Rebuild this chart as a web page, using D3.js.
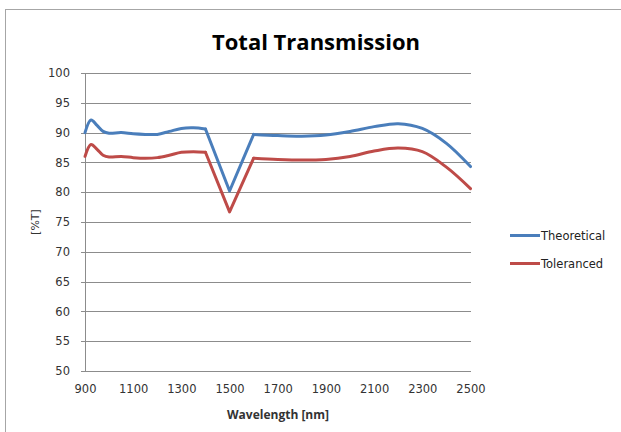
<!DOCTYPE html>
<html><head><meta charset="utf-8">
<script src="https://cdn.jsdelivr.net/npm/d3@7"></script>
<style>
html,body{margin:0;padding:0;background:#fff;}
svg{display:block;}
</style></head>
<body>
<svg id="chart" width="621" height="432"></svg>
<script>
const wavelengths = [900, 925, 950, 975, 1000, 1050, 1100, 1150, 1200, 1250, 1300, 1350, 1400, 1500, 1600, 1700, 1800, 1900, 2000, 2100, 2200, 2300, 2400, 2500];
const theoretical = [90.0, 92.1, 91.2, 90.2, 89.9, 90.0, 89.8, 89.7, 89.7, 90.2, 90.7, 90.8, 90.6, 80.2, 89.7, 89.5, 89.4, 89.6, 90.2, 91.0, 91.5, 90.7, 88.2, 84.3];
const toleranced  = [86.0, 88.0, 87.2, 86.2, 85.9, 86.0, 85.8, 85.7, 85.8, 86.2, 86.7, 86.8, 86.7, 76.7, 85.7, 85.5, 85.4, 85.5, 86.0, 86.9, 87.4, 86.8, 84.2, 80.6];
const xTicks = [900, 1100, 1300, 1500, 1700, 1900, 2100, 2300, 2500];
const yTicks = [50, 55, 60, 65, 70, 75, 80, 85, 90, 95, 100];
const seriesNames = ["Theoretical", "Toleranced"];
const seriesColors = ["#4A7EBB", "#BE4B48"];

const svg = d3.select("#chart");
const font = "'DejaVu Sans', sans-serif";

svg.append("rect").attr("x", 5.5).attr("y", 9.5).attr("width", 640).attr("height", 440)
  .attr("fill", "#fff").attr("stroke", "#a6a6a6").attr("stroke-width", 1);

const x = d3.scaleLinear().domain([900, 2500]).range([85, 470.5]);
const y = d3.scaleLinear().domain([50, 100]).range([371, 73]);

svg.append("g").selectAll("line").data(yTicks).join("line")
  .attr("x1", 81).attr("x2", 471)
  .attr("y1", d => Math.round(y(d)) + 0.5).attr("y2", d => Math.round(y(d)) + 0.5)
  .attr("stroke", "#8c8c8c").attr("stroke-width", 1);

svg.append("line").attr("x1", 85.5).attr("x2", 85.5).attr("y1", 73).attr("y2", 371.5)
  .attr("stroke", "#8c8c8c");

const yAxis = d3.axisLeft(y).tickValues(yTicks).tickSize(0).tickPadding(15);
const gy = svg.append("g").attr("transform", "translate(85,0)").call(yAxis);
gy.select(".domain").remove();
gy.selectAll("text").attr("font-family", font).attr("font-size", 11.5).attr("fill", "#333");

const xAxis = d3.axisBottom(x).tickValues(xTicks).tickSize(0).tickPadding(14).tickFormat(d3.format("d"));
const gx = svg.append("g").attr("transform", "translate(0,371)").call(xAxis);
gx.select(".domain").remove();
gx.selectAll("text").attr("font-family", font).attr("font-size", 11.5).attr("fill", "#333");

// smooth segments on either side of the 1500 nm notch, straight lines into/out of the notch
const iA = wavelengths.indexOf(1400), iB = wavelengths.indexOf(1600);
const smooth = d3.curveCatmullRom.alpha(0.5);
const segs = [[0, iA, smooth], [iA, iB, d3.curveLinear], [iB, wavelengths.length - 1, smooth]];
[theoretical, toleranced].forEach((s, k) => {
  const pts = s.map((v, i) => [wavelengths[i], v]);
  segs.forEach(([a, b, c]) => {
    const ln = d3.line().x(d => x(d[0])).y(d => y(d[1])).curve(c);
    svg.append("path").datum(pts.slice(a, b + 1)).attr("d", ln).attr("fill", "none")
      .attr("stroke", seriesColors[k]).attr("stroke-width", 3)
      .attr("stroke-linejoin", "round").attr("stroke-linecap", "round");
  });
});

svg.append("text").attr("x", 316).attr("y", 50).attr("text-anchor", "middle")
  .attr("font-family", "'Open Sans', sans-serif").attr("font-weight", "bold").attr("font-size", 22)
  .attr("fill", "#000").text("Total Transmission");

svg.append("text").attr("x", 278).attr("y", 419).attr("text-anchor", "middle")
  .attr("font-family", "'Open Sans', sans-serif").attr("font-weight", "bold").attr("font-size", 12)
  .attr("fill", "#333").text("Wavelength [nm]");

svg.append("text").attr("transform", "translate(39,222) rotate(-90)").attr("text-anchor", "middle")
  .attr("font-family", font).attr("font-size", 11)
  .attr("fill", "#333").text("[%T]");

const lg = svg.append("g");
seriesNames.forEach((n, k) => {
  const yy = 235.5 + k * 28;
  lg.append("line").attr("x1", 510).attr("x2", 540).attr("y1", yy).attr("y2", yy)
    .attr("stroke", seriesColors[k]).attr("stroke-width", 3);
  lg.append("text").attr("x", 541).attr("y", yy + 4.5).attr("font-family", font)
    .attr("font-size", 11.5).attr("fill", "#222").text(n);
});
</script>
</body></html>
